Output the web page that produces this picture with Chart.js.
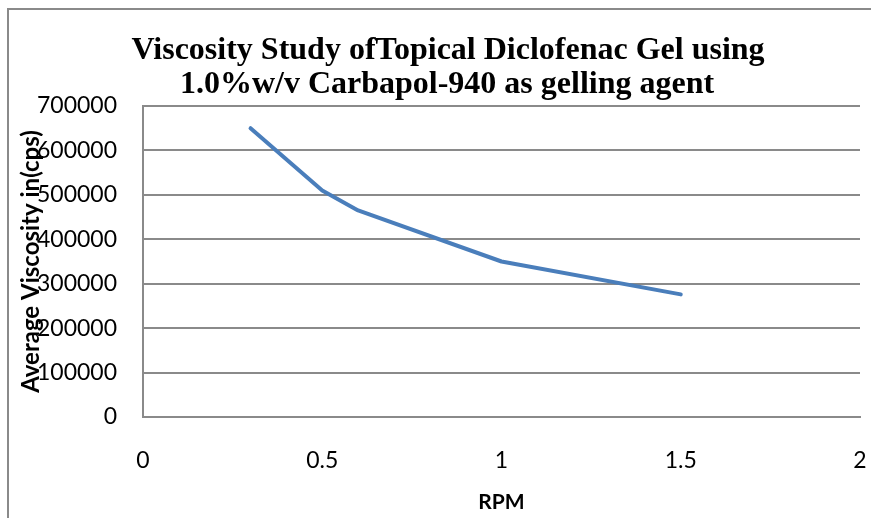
<!DOCTYPE html>
<html>
<head>
<meta charset="utf-8">
<script src="https://cdn.jsdelivr.net/npm/chart.js@4.4.0/dist/chart.umd.min.js"></script>
<style>
  html, body { margin: 0; padding: 0; background: #fff; }
  #wrap { width: 871px; height: 518px; position: relative; }
</style>
</head>
<body>
<div id="wrap"><canvas id="grafico" width="871" height="518"></canvas></div>
<script>
const rpm = [0.3, 0.5, 0.6, 1, 1.5];
const viscosity = [650000, 510000, 465000, 350000, 276000];
const titleLines = [
  "Viscosity Study ofTopical Diclofenac Gel using",
  "1.0%w/v Carbapol-940 as gelling agent",
];
const xTitle = "RPM";
const yTitle = "Average Viscosity in(cps)";

const framePlugin = {
  id: "frame",
  beforeDraw(chart) {
    let ctx = chart.ctx;
    ctx.save();
    ctx.fillStyle = "#fff";
    ctx.fillRect(0, 0, chart.width, chart.height);
    ctx.strokeStyle = "#8a8a8a";
    ctx.lineWidth = 2;
    ctx.strokeRect(8, 9, 1000, 1000);
    ctx.restore();
  },
  afterDraw(chart) {
    let ctx = chart.ctx;
    ctx.save();
    ctx.fillStyle = "#000";
    ctx.font = "bold 32px 'Liberation Serif'";
    ctx.textAlign = "center";
    ctx.textBaseline = "alphabetic";
    ctx.fillText(titleLines[0], 448, 59);
    ctx.fillText(titleLines[1], 447, 93);
    ctx.restore();
  },
};

function createLineChart() {
  let points = [];
  for (let i = 0; i < rpm.length; i++) {
    points.push({ x: rpm[i], y: viscosity[i] });
  }

  new Chart(document.getElementById("grafico"), {
    type: "line",
    data: {
      datasets: [
        {
          data: points,
          borderColor: "#4a7ebb",
          borderWidth: 4,
          pointRadius: 0,
          tension: 0,
          borderJoinStyle: "round",
          borderCapStyle: "round",
        },
      ],
    },
    options: {
      responsive: false,
      animation: false,
      events: [],
      layout: { padding: { left: 12, right: 11, top: 106, bottom: 0 } },
      plugins: {
        legend: { display: false },
        title: { display: false },
        tooltip: { enabled: false },
      },
      scales: {
        x: {
          type: "linear",
          min: 0,
          max: 2,
          ticks: {
            stepSize: 0.5,
            padding: 0,
            color: "#000",
            font: { family: "Lato", size: 23 },
            maxRotation: 0,
            callback: (v) => String(v),
          },
          grid: { display: false, drawTicks: true, tickLength: 30 },
          border: { display: true, color: "#8a8a8a", width: 2 },
          title: {
            display: true,
            text: xTitle,
            color: "#000",
            font: { family: "Lato", size: 21, weight: "bold" },
            padding: { top: 0, bottom: 3 },
          },
          afterFit(scale) {
            scale.height = 101;
          },
        },
        y: {
          min: 0,
          max: 700000,
          ticks: {
            stepSize: 100000,
            padding: 26,
            color: "#000",
            font: { family: "Lato", size: 23 },
            callback: (v) => String(v),
          },
          grid: { color: "#8a8a8a", lineWidth: 2, drawTicks: false },
          border: { display: true, color: "#8a8a8a", width: 2 },
          title: {
            display: true,
            text: yTitle,
            color: "#000",
            font: { family: "Lato", size: 24, weight: "bold" },
            padding: { top: 5, bottom: 0 },
          },
          afterFit(scale) {
            scale.width = 131;
          },
        },
      },
    },
    plugins: [framePlugin],
  });
}

createLineChart();
</script>
</body>
</html>
